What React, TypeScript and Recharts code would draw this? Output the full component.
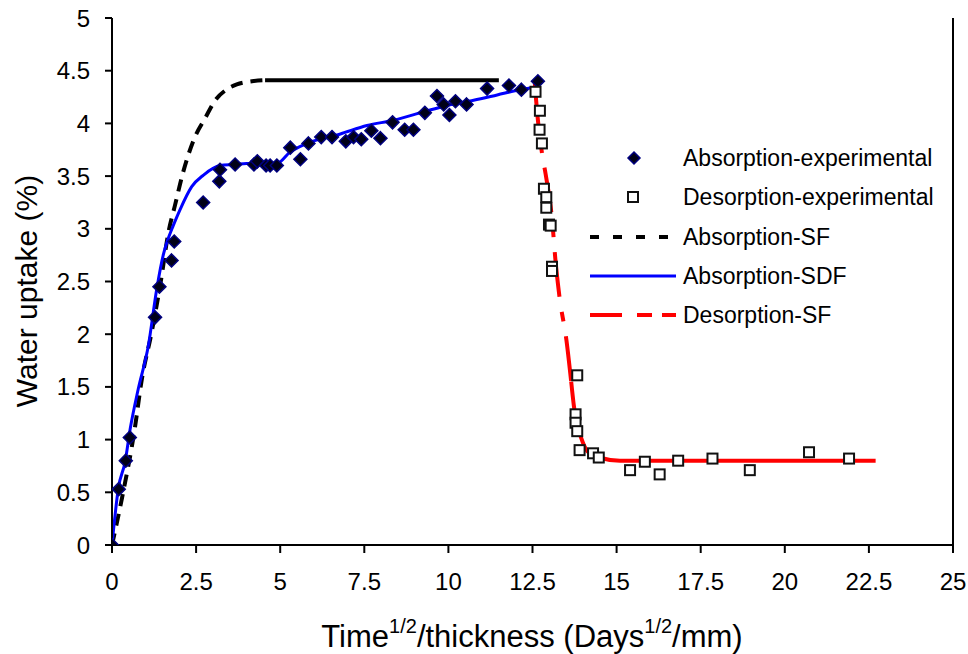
import React from "react";
import {
  ComposedChart,
  Line,
  Scatter,
  XAxis,
  YAxis,
  Label,
  Legend,
  ReferenceLine,
} from "recharts";

// Absorption experimental (diamonds)
const absExpX = [
  0, 0.2, 0.41, 0.53, 1.28, 1.41, 1.77, 1.85, 2.71, 3.19, 3.21, 3.66, 4.22, 4.32, 4.58, 4.7,
  4.9, 5.3, 5.6, 5.84, 6.22, 6.54, 6.95, 7.18, 7.41, 7.71, 7.98, 8.34, 8.7, 8.96, 9.3, 9.66,
  9.86, 10.03, 10.21, 10.54, 11.15, 11.8, 12.17, 12.66,
];
const absExpY = [
  0, 0.53, 0.8, 1.02, 2.16, 2.45, 2.7, 2.88, 3.25, 3.45, 3.56, 3.61, 3.61, 3.64, 3.6, 3.6,
  3.6, 3.77, 3.66, 3.81, 3.87, 3.87, 3.83, 3.87, 3.85, 3.93, 3.86, 4.01, 3.94, 3.94, 4.1, 4.26,
  4.18, 4.08, 4.21, 4.18, 4.33, 4.36, 4.32, 4.4,
];

// Desorption experimental (open squares)
const desExpX = [
  12.59, 12.72, 12.71, 12.78, 12.84, 12.91, 12.91, 12.99, 13.04, 13.08, 13.08, 13.83, 13.78,
  13.78, 13.83, 13.9, 14.3, 14.47, 15.4, 15.84, 16.28, 16.83, 17.85, 18.96, 20.72, 21.91,
];
const desExpY = [
  4.3, 4.12, 3.94, 3.81, 3.38, 3.3, 3.2, 3.04, 3.03, 2.64, 2.6, 1.61, 1.24,
  1.16, 1.08, 0.9, 0.87, 0.83, 0.71, 0.79, 0.67, 0.8, 0.82, 0.71, 0.88, 0.82,
];

// Absorption-SF model (dashed rise, then plateau)
const absSFX = [0, 0.3, 0.68, 0.88, 1.18, 1.45, 1.68, 1.87, 2.1, 2.45, 2.77, 3.07, 3.4, 3.71, 4.16, 4.55];
const absSFY = [0, 0.45, 1.11, 1.56, 2.02, 2.5, 2.97, 3.22, 3.52, 3.86, 4.05, 4.22, 4.32, 4.37, 4.4, 4.41];
const absSFPlateauX = [4.55, 11.5];
const absSFPlateauY = [4.41, 4.41];

// Absorption-SDF model
const absSDFX = [
  0, 0.19, 0.39, 0.54, 0.78, 1.08, 1.33, 1.53, 1.63, 1.82, 2.02, 2.37, 2.72, 3.21, 3.66, 4.0,
  4.9, 5.3, 5.79, 6.79, 7.58, 8.37, 9.27, 9.96, 10.75, 11.45, 12.14, 12.55,
];
const absSDFY = [
  0, 0.54, 0.79, 1.1, 1.48, 1.89, 2.43, 2.76, 2.87, 3.03, 3.18, 3.4, 3.51, 3.6, 3.61, 3.62,
  3.62, 3.73, 3.81, 3.9, 3.98, 4.03, 4.11, 4.17, 4.22, 4.27, 4.32, 4.34,
];

// Desorption-SF model (dash-dot drop, then solid tail)
const desSFX = [12.57, 12.6, 12.79, 12.89, 13.09, 13.18, 13.3, 13.51, 13.65];
const desSFY = [4.38, 4.25, 3.7, 3.52, 3.06, 2.71, 2.36, 1.94, 1.55];
const desSFTailX = [13.65, 13.73, 13.8, 13.93, 14.13, 14.47, 15.1, 22.7];
const desSFTailY = [1.55, 1.32, 1.17, 1.03, 0.89, 0.83, 0.8, 0.8];

const xTicks = [0, 2.5, 5, 7.5, 10, 12.5, 15, 17.5, 20, 22.5, 25];
const yTicks = [0, 0.5, 1, 1.5, 2, 2.5, 3, 3.5, 4, 4.5, 5];

const legendNames = [
  "Absorption-experimental",
  "Desorption-experimental",
  "Absorption-SF",
  "Absorption-SDF",
  "Desorption-SF",
];

const zip = (xs: number[], ys: number[]) => xs.map((x, i) => ({ x, y: ys[i] }));

const FONT = "'Liberation Sans', Arial, sans-serif";

const DiamondShape = (props: any) => {
  const { cx, cy } = props;
  if (cx == null || cy == null) return null;
  const r = 6.5;
  return (
    <path
      d={`M${cx},${cy - r} L${cx + r},${cy} L${cx},${cy + r} L${cx - r},${cy} Z`}
      fill="#000018"
      stroke="#000080"
      strokeWidth={1.5}
    />
  );
};

const SquareShape = (props: any) => {
  const { cx, cy } = props;
  if (cx == null || cy == null) return null;
  return <rect x={cx - 5} y={cy - 5} width={10} height={10} fill="#fff" stroke="#111" strokeWidth={2} />;
};

const XTitle = () => (
  <text x={532} y={647} textAnchor="middle" fontFamily={FONT} fontSize={31} fill="#000">
    <tspan>Time</tspan>
    <tspan fontSize={20} dy={-14}>1/2</tspan>
    <tspan dy={14}>/thickness (Days</tspan>
    <tspan fontSize={20} dy={-14}>1/2</tspan>
    <tspan dy={14}>/mm)</tspan>
  </text>
);

const YTitle = () => (
  <text
    transform="translate(37,291) rotate(-90)"
    textAnchor="middle"
    fontFamily={FONT}
    fontSize={30}
    fill="#000"
  >
    Water uptake (%)
  </text>
);

// legend drawn in its own svg, rows spaced like the original
const renderLegend = () => {
  const rowY = [23, 62, 102, 141, 180];
  return (
    <svg width={380} height={200} style={{ display: "block" }}>
      <path d={`M49,${rowY[0] - 6} L55,${rowY[0]} L49,${rowY[0] + 6} L43,${rowY[0]} Z`} fill="#000018" stroke="#000080" strokeWidth={1.5} />
      <rect x={43} y={rowY[1] - 5} width={10} height={10} fill="#fff" stroke="#111" strokeWidth={2} />
      <line x1={5} x2={91} y1={rowY[2]} y2={rowY[2]} stroke="#000" strokeWidth={4} strokeDasharray="9 14" />
      <line x1={5} x2={91} y1={rowY[3]} y2={rowY[3]} stroke="#0000ff" strokeWidth={3} />
      <line x1={5} x2={91} y1={rowY[4]} y2={rowY[4]} stroke="#ff0000" strokeWidth={4} strokeDasharray="32 15 15 10" />
      {legendNames.map((n, i) => (
        <text key={n} x={98} y={rowY[i] + 8} fontFamily={FONT} fontSize={23} fill="#000">
          {n}
        </text>
      ))}
    </svg>
  );
};

export default function App() {
  return (
    <div style={{ position: "absolute", left: 0, top: 0, width: 968, height: 654, background: "#fff" }}>
      <ComposedChart width={968} height={654} margin={{ top: 18, right: 15, left: 0, bottom: 0 }}>
        <XAxis
          type="number"
          dataKey="x"
          domain={[0, 25]}
          ticks={xTicks}
          allowDataOverflow
          height={109}
          axisLine={{ stroke: "#000", strokeWidth: 2 }}
          tickLine={{ stroke: "#000", strokeWidth: 2 }}
          tickSize={8}
          tickMargin={20}
          tick={{ fill: "#000", fontSize: 24, fontFamily: FONT }}
        >
          <Label content={XTitle} />
        </XAxis>
        <YAxis
          type="number"
          domain={[0, 5]}
          ticks={yTicks}
          allowDataOverflow
          width={112}
          axisLine={{ stroke: "#000", strokeWidth: 2 }}
          tickLine={{ stroke: "#000", strokeWidth: 2 }}
          tickSize={7}
          tickMargin={15}
          tick={{ fill: "#000", fontSize: 24, fontFamily: FONT }}
        >
          <Label content={YTitle} />
        </YAxis>
        <ReferenceLine x={25} stroke="#000" strokeWidth={2} />

        <Line data={zip(absSFX, absSFY)} dataKey="y" type="monotone" stroke="#000" strokeWidth={4}
          strokeDasharray="12 8" dot={false} activeDot={false} isAnimationActive={false} />
        <Line data={zip(absSFPlateauX, absSFPlateauY)} dataKey="y" type="linear" stroke="#000" strokeWidth={4}
          dot={false} activeDot={false} isAnimationActive={false} />
        <Line data={zip(absSDFX, absSDFY)} dataKey="y" type="monotone" stroke="#0000ff" strokeWidth={3}
          dot={false} activeDot={false} isAnimationActive={false} />
        <Line data={zip(desSFX, desSFY)} dataKey="y" type="monotone" stroke="#ff0000" strokeWidth={4}
          strokeDasharray="45 15 10 15" dot={false} activeDot={false} isAnimationActive={false} />
        <Line data={zip(desSFTailX, desSFTailY)} dataKey="y" type="monotone" stroke="#ff0000" strokeWidth={4}
          dot={false} activeDot={false} isAnimationActive={false} />

        <Scatter data={zip(absExpX, absExpY)} dataKey="y" shape={DiamondShape} isAnimationActive={false} />
        <Scatter data={zip(desExpX, desExpY)} dataKey="y" shape={SquareShape} isAnimationActive={false} />

        <Legend
          layout="horizontal"
          verticalAlign="middle"
          align="center"
          content={renderLegend}
          wrapperStyle={{ position: "absolute", left: 585, top: 135, width: 380, height: 200 }}
        />
      </ComposedChart>
    </div>
  );
}
